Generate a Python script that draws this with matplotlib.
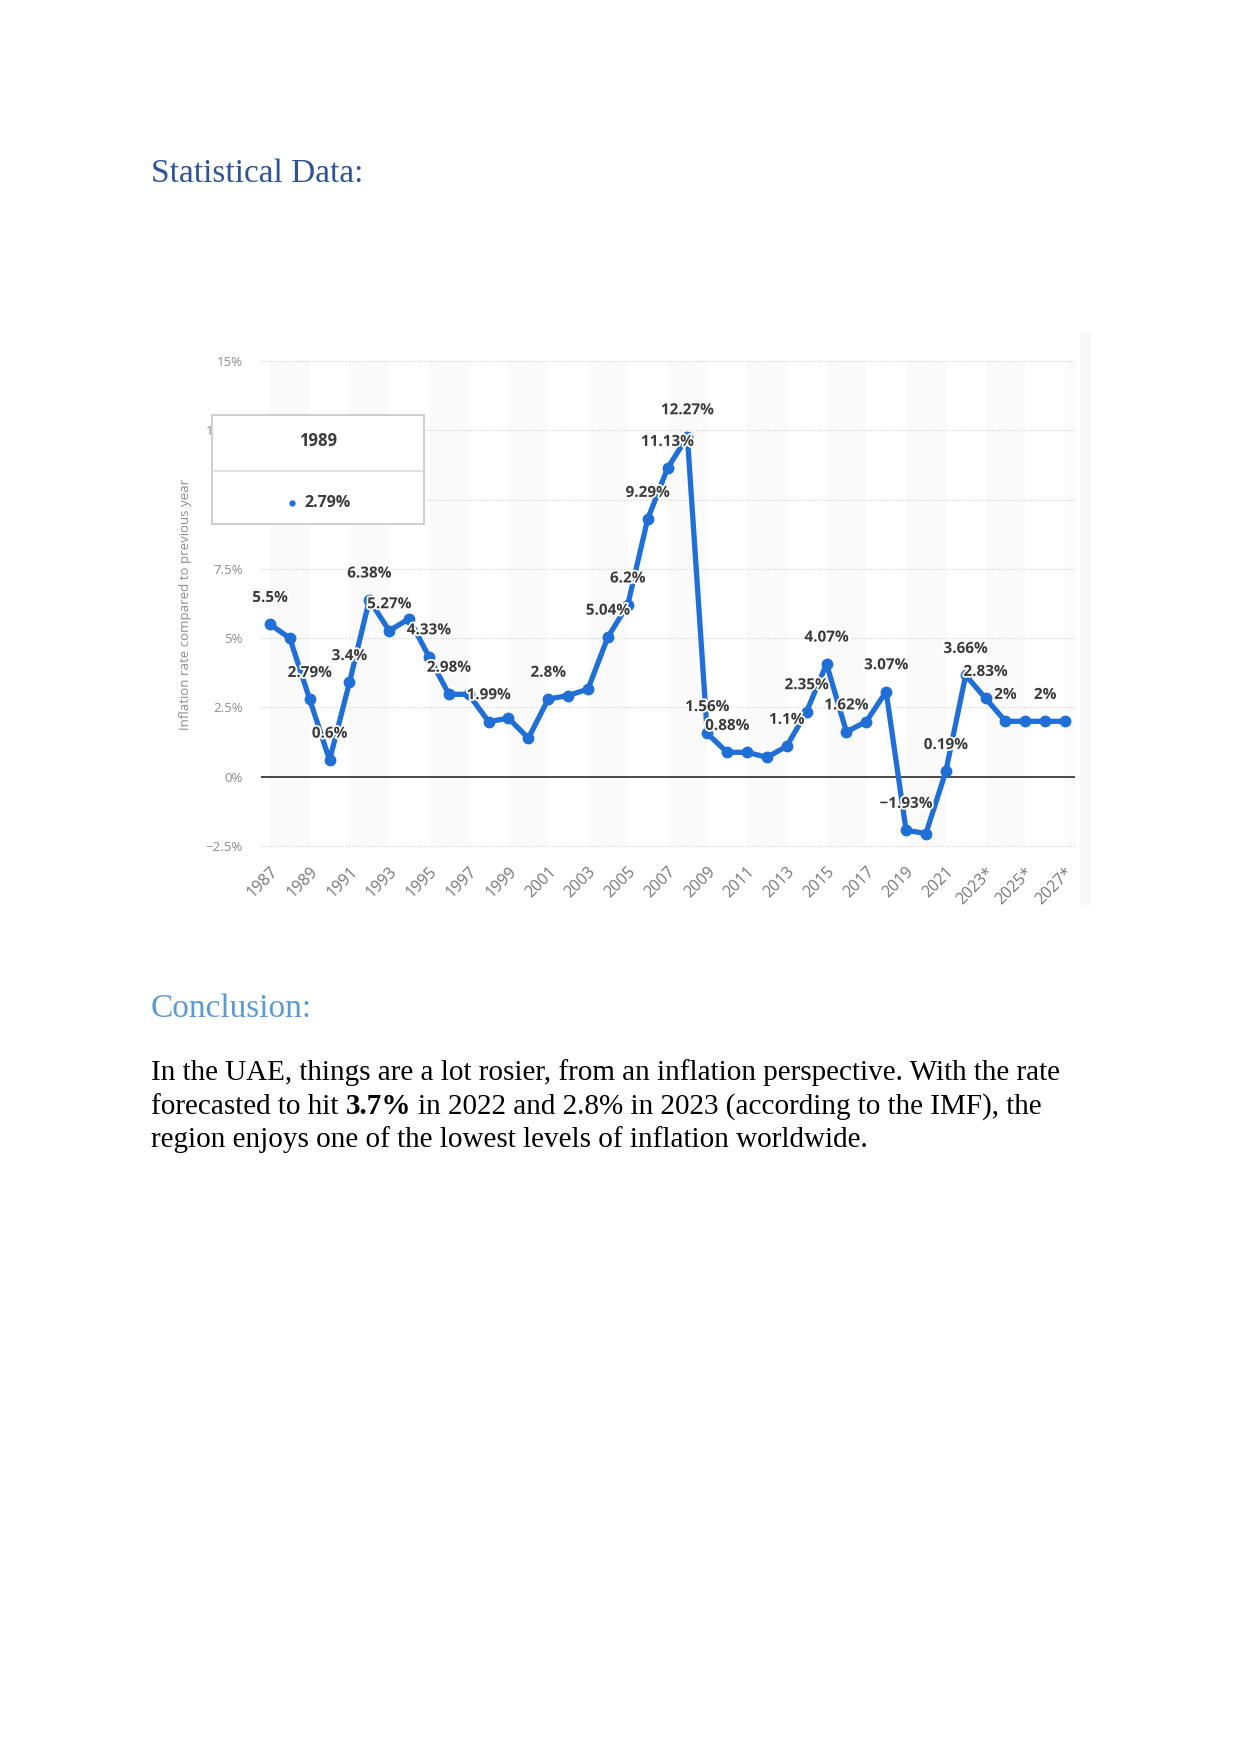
import matplotlib
matplotlib.use('Agg')
import matplotlib.pyplot as plt
from matplotlib.patches import Rectangle
from matplotlib.lines import Line2D
import matplotlib.patheffects as pe

# ---------------- data ----------------
years = list(range(1987, 2028))
inflation = [5.5, 5.0, 2.79, 0.6, 3.4, 6.38, 5.27, 5.7, 4.33, 2.98,
             2.97, 1.99, 2.11, 1.39, 2.8, 2.93, 3.16, 5.04, 6.2, 9.29,
             11.13, 12.27, 1.56, 0.88, 0.88, 0.7, 1.1, 2.35, 4.07, 1.62,
             1.99, 3.07, -1.93, -2.05, 0.19, 3.66, 2.83, 2.0, 2.0, 2.0, 2.0]
labelled_years = [1987, 1989, 1990, 1991, 1992, 1993, 1995, 1996, 1998, 2001,
                  2004, 2005, 2006, 2007, 2008, 2009, 2010, 2013, 2014, 2015,
                  2016, 2018, 2019, 2021, 2022, 2023, 2024, 2026]
xtick_years = list(range(1987, 2028, 2))
xtick_labels = [str(y) + ('*' if y >= 2023 else '') for y in xtick_years]
ytick_values = [-2.5, 0, 2.5, 5, 7.5, 10, 12.5, 15]
ytick_labels = ['\u22122.5%', '0%', '2.5%', '5%', '7.5%', '10%', '12.5%', '15%']
y_axis_title = 'Inflation rate compared to previous year'
tooltip_year = 1989

heading1 = 'Statistical Data:'
heading2 = 'Conclusion:'
body_line1 = 'In the UAE, things are a lot rosier, from an inflation perspective. With the rate'
body_line2_parts = [('forecasted to hit', 'normal'), ('3.7%', 'bold'),
                    ('in 2022 and 2.8% in 2023 (according to the IMF), the', 'normal')]
body_line3 = 'region enjoys one of the lowest levels of inflation worldwide.'

# ---------------- style ----------------
plt.rcParams['font.family'] = ['Open Sans', 'DejaVu Sans']
BLUE = '#1f6fd6'
GREY = '#8c8c8c'
XGREY = '#777777'
DARK = '#3a3a3a'
SERIF = ['Liberation Serif', 'DejaVu Serif']

W, H = 1241, 1754
fig = plt.figure(figsize=(W / 100, H / 100), dpi=100)
fig.patch.set_facecolor('white')


def fx(x):
    return x / W


def fy(y):
    return 1 - y / H


# ---------------- chart ----------------
ax = fig.add_axes([fx(261), fy(846), (1075 - 261) / W, (846 - 361) / H])
ax.set_xlim(1986.55, 2027.5)
ax.set_ylim(-2.5, 15)
for s in ax.spines.values():
    s.set_visible(False)

for start in range(1987, 2028, 4):
    ax.axvspan(start, start + 2, color='#fafafa', lw=0, zorder=0)

for v in ytick_values:
    if v != 0:
        ax.axhline(v, color='#d2d2d2', lw=0.9, ls=(0, (1, 1.5)), zorder=0.5, clip_on=False)
ax.axhline(0, color='#3a3a3a', lw=1.3, zorder=1)

ax.set_yticks(ytick_values, ytick_labels)
ax.tick_params(axis='y', length=0, pad=13, labelsize=9.5, labelcolor=GREY)
ax.set_xticks(xtick_years, xtick_labels, rotation=45, ha='right', va='top',
              rotation_mode='anchor')
ax.tick_params(axis='x', length=0, pad=13, labelsize=11.5, labelcolor=XGREY)

ax.plot(years, inflation, color=BLUE, lw=3.8, marker='o', ms=7.5,
        solid_joinstyle='round', solid_capstyle='round', zorder=3, clip_on=False)

for y in labelled_years:
    v = inflation[years.index(y)]
    txt = f'{v:g}%'.replace('-', '\u2212')
    ax.annotate(txt, (y, v), xytext=(0, 19), textcoords='offset points',
                ha='center', va='center', fontsize=11, fontweight='bold',
                color=DARK, zorder=4, annotation_clip=False,
                path_effects=[pe.withStroke(linewidth=2.5, foreground='white')])

fig.text(fx(185), fy(604), y_axis_title, rotation=90, ha='center', va='center',
         fontsize=9.5, color=GREY)

# faint right edge of the screenshot
fig.add_artist(Rectangle((fx(1080), fy(905)), 11 / W, (905 - 332) / H,
                         transform=fig.transFigure, facecolor='#f8f8f8', lw=0, zorder=-1))

# tooltip box
fig.add_artist(Rectangle((fx(212), fy(524)), (424 - 212) / W, (524 - 415) / H,
                         transform=fig.transFigure, facecolor='white',
                         edgecolor='#c6c6c6', lw=1.2, zorder=10))
fig.add_artist(Line2D([fx(213), fx(423)], [fy(471), fy(471)], transform=fig.transFigure,
                      color='#dcdcdc', lw=1.2, zorder=11))
fig.text(fx(318), fy(441), str(tooltip_year), ha='center', va='center', fontsize=12,
         fontweight='bold', color=DARK, zorder=12)
fig.add_artist(Line2D([fx(292)], [fy(503)], marker='o', ms=3.5, color=BLUE, lw=0,
                      transform=fig.transFigure, zorder=12))
tooltip_value = f'{inflation[years.index(tooltip_year)]:g}%'
fig.text(fx(304), fy(503), tooltip_value, ha='left', va='center', fontsize=11.5,
         fontweight='bold', color=DARK, zorder=12)

# ---------------- page text ----------------
fig.text(fx(151), fy(182), heading1, fontsize=24, color='#2f5496', family=SERIF,
         va='baseline')
fig.text(fx(151), fy(1017), heading2, fontsize=24, color='#5b9bd5', family=SERIF,
         va='baseline')

BODY = dict(fontsize=21, color='black', family=SERIF, va='baseline')
fig.text(fx(151), fy(1080), body_line1, **BODY)
fig.text(fx(151), fy(1147), body_line3, **BODY)

r = fig.canvas.get_renderer()


def width_px(s, weight):
    t = fig.text(0, 0, s, fontweight=weight, **BODY)
    w = t.get_window_extent(renderer=r).width
    t.remove()
    return w


space = width_px('a a', 'normal') - width_px('aa', 'normal')
x = 151.0
for part, weight in body_line2_parts:
    fig.text(fx(x), fy(1114), part, fontweight=weight, **BODY)
    x += width_px(part, weight) + space

fig.savefig('out.png', dpi=100)
